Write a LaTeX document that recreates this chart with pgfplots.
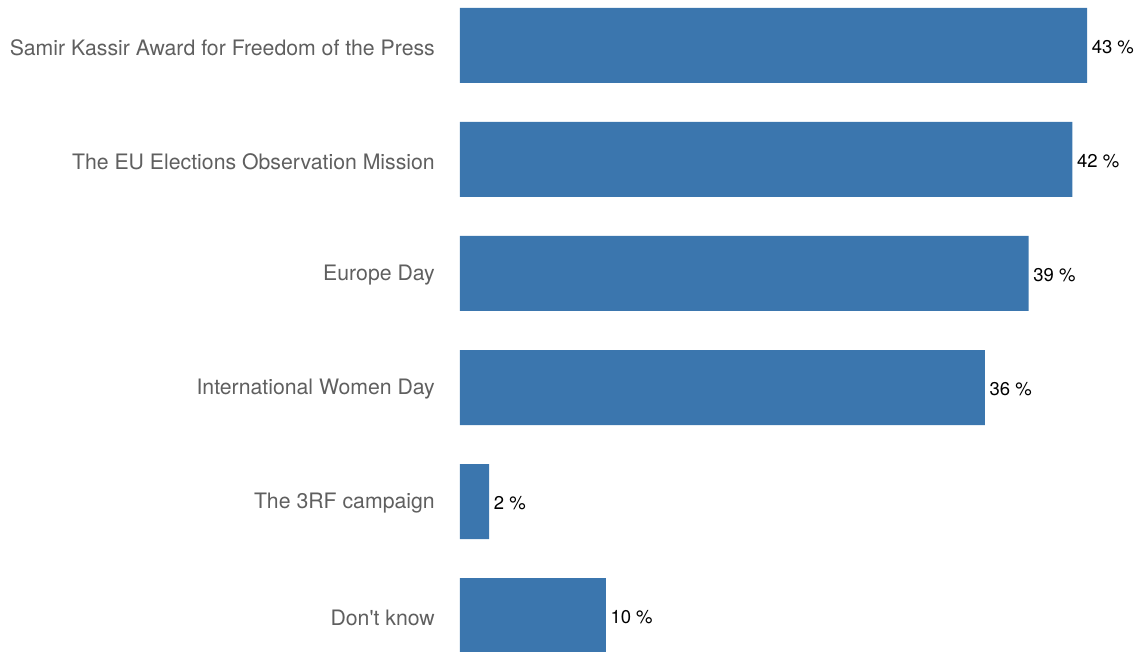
\documentclass[border=0pt]{standalone}
\usepackage{pgfplots}
\pgfplotsset{compat=1.18}
\usepackage{fontspec}
\setmainfont{TeX Gyre Heros}
\definecolor{barblue}{RGB}{59,118,174}
\definecolor{labgray}{RGB}{95,95,95}
\begin{document}
\begin{tikzpicture}
\useasboundingbox (0,0) rectangle (1140pt,652pt);
\begin{axis}[
  at={(460pt,0pt)}, anchor=south west,
  scale only axis,
  width=680pt, height=652pt,
  xbar, bar width=75pt,
  xmin=0, xmax=46.63,
  ymin=-0.399, ymax=5.32,
  y dir=reverse,
  axis line style={draw=none},
  major tick length=0pt,
  xtick=\empty,
  ytick={0,1,2,3,4,5},
  yticklabels={Samir Kassir Award for Freedom of the Press, The EU Elections Observation Mission, Europe Day, International Women Day, The 3RF campaign, Don\textquotesingle t know},
  yticklabel style={font=\fontsize{21.25}{25}\selectfont, text=labgray, inner sep=0pt, anchor=east, xshift=-25pt, yshift=-2pt},
  /pgf/number format/assume math mode=true,
  nodes near coords={\pgfmathprintnumber{\pgfplotspointmeta} \%},
  nodes near coords style={font=\fontsize{18.5}{22}\selectfont, text=black, anchor=west, inner sep=0pt, xshift=4.5pt, yshift=-1.5pt},
  clip=false,
]
\addplot[fill=barblue, draw=none] coordinates {(43,0) (42,1) (39,2) (36,3) (2,4) (10,5)};
\end{axis}
\end{tikzpicture}
\end{document}
